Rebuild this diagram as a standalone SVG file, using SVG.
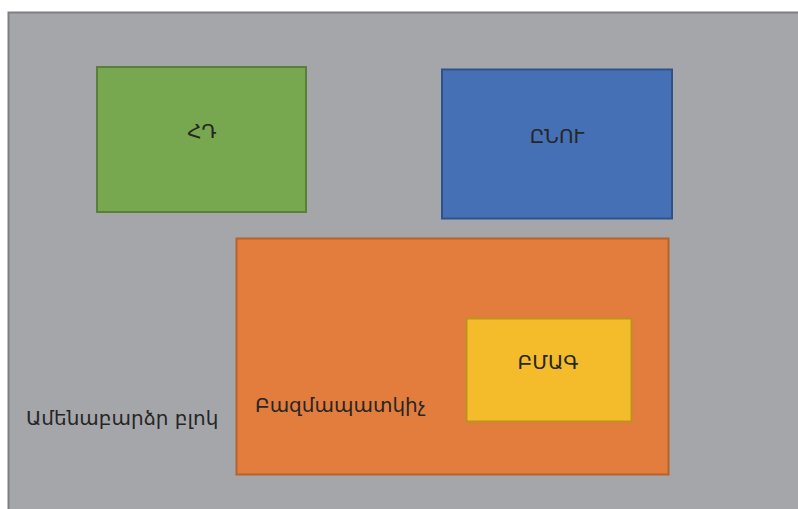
<svg xmlns="http://www.w3.org/2000/svg" width="798" height="509" viewBox="0 0 798 509">
<style>
.lbl{font-family:"DejaVu Sans","Noto Sans",sans-serif;font-size:20px;fill:#262626}
.c{text-anchor:middle}
</style>
<rect width="798" height="509" fill="#ffffff"/>
<g id="top">
<rect x="8.5" y="12.5" width="800" height="510" fill="#A5A6AA" stroke="#7F7F82" stroke-width="2"/>
<text class="lbl" x="26" y="425">Ամենաբարձր բլոկ</text>
</g>
<g id="hd">
<rect x="97" y="67" width="209" height="145" fill="#77A74F" stroke="#5A7F3A" stroke-width="2"/>
<text class="lbl c" x="202" y="138">ՀԴ</text>
</g>
<g id="alu">
<rect x="442" y="69.5" width="230" height="149" fill="#4670B6" stroke="#2F528C" stroke-width="2"/>
<text class="lbl c" x="557" y="143">ԸՆՈՒ</text>
</g>
<g id="mult">
<rect x="236.5" y="238.5" width="432" height="236" fill="#E37D3D" stroke="#B5622C" stroke-width="2"/>
<text class="lbl" x="255" y="412">Բազմապատկիչ</text>
</g>
<g id="bmag">
<rect x="466.5" y="318.5" width="165" height="103" fill="#F4BB2A" stroke="#BF921F" stroke-width="2"/>
<text class="lbl c" x="548" y="369">ԲՄԱԳ</text>
</g>
<g id="connectors"></g>
</svg>
